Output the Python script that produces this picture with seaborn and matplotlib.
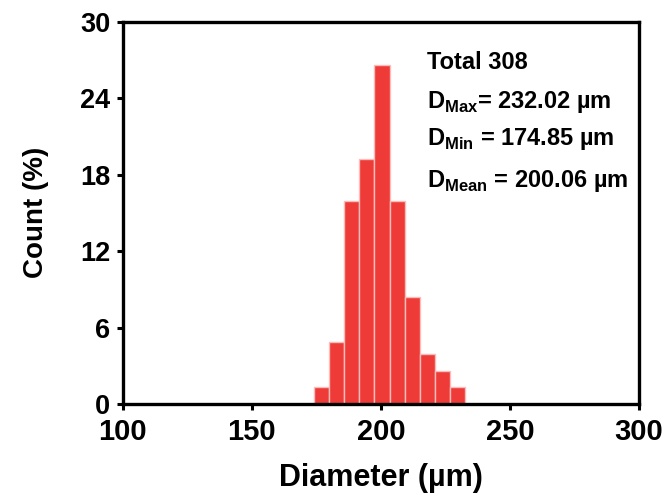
import matplotlib
matplotlib.use("Agg")
import matplotlib.pyplot as plt
import seaborn as sns

# histogram (percent of 308 particles)
bin_edges = [174.1, 180.0, 185.8, 191.7, 197.5, 203.4, 209.2, 215.1, 220.9, 226.8, 232.7]
bin_centers = [177.0, 182.9, 188.8, 194.6, 200.5, 206.3, 212.2, 218.0, 223.9, 229.8]
count_pct = [1.3, 4.9, 15.9, 19.2, 26.6, 15.9, 8.4, 3.9, 2.6, 1.3]

x_ticks = [100, 150, 200, 250, 300]
y_ticks = [0, 6, 12, 18, 24, 30]
stats_lines = [
    "Total 308",
    r"D$_{\mathbf{Max}}$= 232.02 µm",
    r"D$_{\mathbf{Min}}$ = 174.85 µm",
    r"D$_{\mathbf{Mean}}$ = 200.06 µm",
]

sns.set_style("ticks")
plt.rcParams["font.family"] = ["Liberation Sans", "DejaVu Sans"]
plt.rcParams["font.weight"] = "bold"
plt.rcParams["mathtext.fontset"] = "custom"
plt.rcParams["mathtext.bf"] = "Liberation Sans:bold"
plt.rcParams["mathtext.rm"] = "Liberation Sans:bold"
for key in ["text.color", "axes.labelcolor", "xtick.color", "ytick.color", "axes.edgecolor"]:
    plt.rcParams[key] = "black"

fig = plt.figure(figsize=(6.68, 5.04), dpi=100)
ax = fig.add_axes([0.1837, 0.1984, 0.7729, 0.7586])

sns.histplot(x=bin_centers, weights=count_pct, bins=bin_edges, ax=ax,
             color="#EE3B37", alpha=1, edgecolor="#F7BDBB", linewidth=1)

ax.set_xlim(100, 300)
ax.set_ylim(0, 30)
ax.set_xticks(x_ticks)
ax.set_yticks(y_ticks)
ax.tick_params(axis="both", width=2.2, length=4, direction="out")
ax.tick_params(axis="y", pad=5, labelsize=19.5)
ax.tick_params(axis="x", pad=6, labelsize=21)
for lbl in ax.get_xticklabels() + ax.get_yticklabels():
    lbl.set_fontweight("bold")
for sp in ax.spines.values():
    sp.set_visible(True)
    sp.set_linewidth(2.4)

ax.set_xlabel("Diameter (µm)", fontsize=22, fontweight="bold", labelpad=12)
ax.set_ylabel("Count (%)", fontsize=20, fontweight="bold", labelpad=22)

y_pos = [0.877, 0.773, 0.678, 0.568]
for txt, yp in zip(stats_lines, y_pos):
    ax.text(0.590, yp, txt, transform=ax.transAxes, fontsize=17,
            fontweight="bold", ha="left", va="baseline")

fig.savefig("out.png", dpi=100)
